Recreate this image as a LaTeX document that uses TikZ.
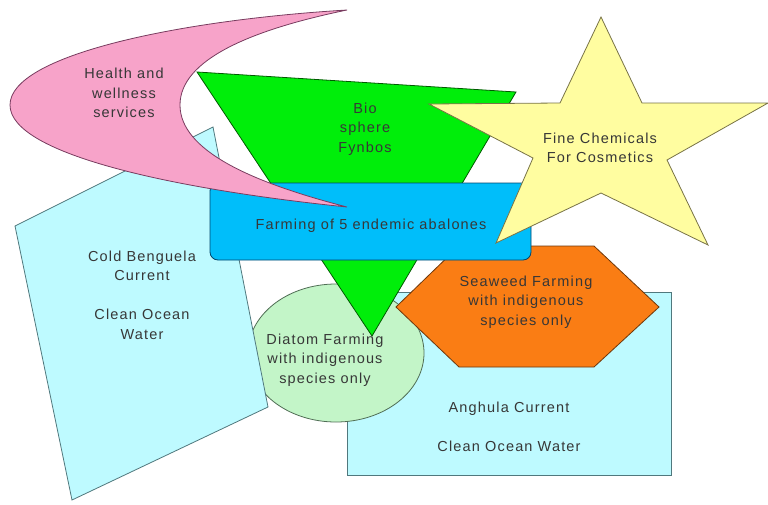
\documentclass[tikz,border=0pt]{standalone}
\usepackage{fontspec}
\setmainfont{Liberation Sans}[LetterSpace=8]
\definecolor{pinkc}{RGB}{247,163,201}
\definecolor{pinkd}{RGB}{120,60,95}
\definecolor{greenc}{RGB}{0,238,10}
\definecolor{greend}{RGB}{0,90,0}
\definecolor{bluec}{RGB}{0,190,250}
\definecolor{blued}{RGB}{0,70,110}
\definecolor{cyanc}{RGB}{190,250,255}
\definecolor{cyand}{RGB}{80,120,125}
\definecolor{elc}{RGB}{195,245,200}
\definecolor{eld}{RGB}{80,110,85}
\definecolor{orc}{RGB}{250,125,20}
\definecolor{ord}{RGB}{110,55,10}
\definecolor{yelc}{RGB}{255,253,160}
\definecolor{yeld}{RGB}{120,115,70}
\definecolor{txt}{RGB}{55,55,55}
\tikzset{
  shp/.style={line width=0.8pt, line join=miter},
  lbl/.style={align=center, inner sep=0pt, text=txt, font=\fontsize{14.5}{19.5}\selectfont},
}
\begin{document}
\begin{tikzpicture}[x=1pt,y=-1pt]
\useasboundingbox (0,0) rectangle (768,504);
% Anghula current rectangle
\draw[shp, fill=cyanc, draw=cyand] (347,292) rectangle (671,475);
% Diatom ellipse
\draw[shp, fill=elc, draw=eld] (336,353) ellipse [x radius=88, y radius=69];
% Cold Benguela shape
\draw[shp, fill=cyanc, draw=cyand] (15,226) -- (213,127) -- (268,407) -- (72,500) -- cycle;
% Bio sphere triangle
\draw[shp, fill=greenc, draw=greend] (197,72) -- (516,92) -- (372,336) -- cycle;
% Seaweed hexagon
\draw[shp, fill=orc, draw=ord] (396,307) -- (459,246) -- (594,246) -- (659,307) -- (594,367) -- (459,367) -- cycle;
% Abalone rounded rectangle
\draw[shp, fill=bluec, draw=blued, rounded corners=8pt] (210,183) rectangle (531,260);
% Health crescent
\draw[shp, fill=pinkc, draw=pinkd] (347,10) .. controls (180,20) and (10,55) .. (10,105)
  .. controls (10,155) and (180,190) .. (347,207)
  .. controls (250,182) and (180,150) .. (180,105)
  .. controls (180,60) and (250,30) .. cycle;
% Star
\draw[shp, fill=yelc, draw=yeld] (601,17) -- (642,103) -- (768,103) -- (667,160) -- (708,245)
  -- (601,193) -- (496,243) -- (533,158) -- (429,104) -- (560,103) -- cycle;
% Labels
\node[lbl] (health) at (124,93) {Health and\\wellness\\services};
\node[lbl] (bio) at (365,129) {Bio\\sphere\\Fynbos};
\node[lbl] (chem) at (600,148) {Fine Chemicals\\For Cosmetics};
\node[lbl] (abal) at (371,226) {Farming of 5 endemic abalones};
\node[lbl] (cold) at (142,295) {Cold Benguela\\Current\\[19.5pt]Clean Ocean\\Water};
\node[lbl] (diatom) at (325,360) {Diatom Farming\\with indigenous\\species only};
\node[lbl] (seaweed) at (526,302) {Seaweed Farming\\with indigenous\\species only};
\node[lbl] (anghula) at (509,427) {Anghula Current\\[19pt]Clean Ocean Water};
\end{tikzpicture}
\end{document}
